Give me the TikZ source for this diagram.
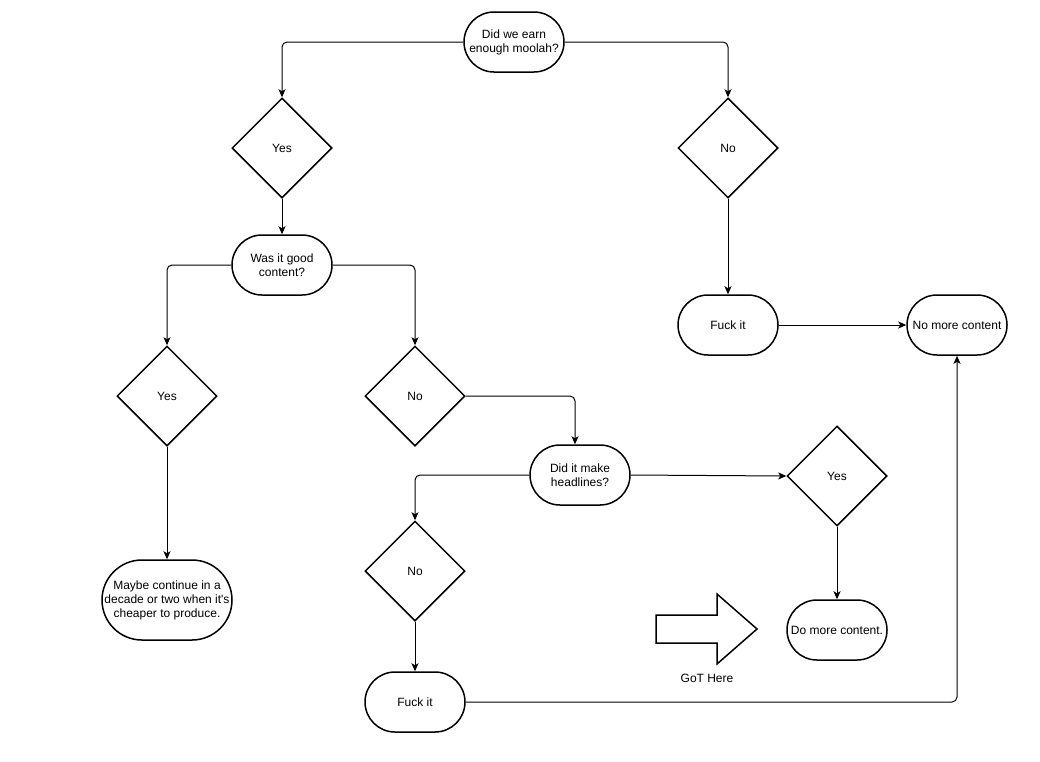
\documentclass[tikz,border=0pt]{standalone}
\usepackage{fontspec}
\setmainfont{Liberation Sans}
\usetikzlibrary{arrows.meta,shapes.geometric}

\begin{document}
\begin{tikzpicture}[x=1pt, y=-1pt,
	every node/.style={font=\fontsize{12}{14}\selectfont, align=center},
	term/.style={draw, line width=1.5pt, rounded corners=30pt, minimum width=100pt, minimum height=60pt, inner sep=2pt},
	choice/.style={draw, line width=1.5pt, diamond, aspect=1, minimum width=100pt, minimum height=100pt, inner sep=0pt},
	link/.style={line width=1pt, rounded corners=5pt, -{Stealth[length=8pt, width=7pt, inset=2pt]}}]
	\useasboundingbox (0,0) rectangle (1040,761);
	% top question and its two answers
	\node[term] (moolah) at (514,42) {Did we earn\\enough moolah?};
	\node[choice] (yesA) at (282,148) {Yes};
	\node[choice] (noA) at (728,148) {No};
	\node[term] (good) at (282,265) {Was it good\\content?};
	\node[term] (fuckA) at (728,325) {Fuck it};
	\node[term] (nomore) at (957,325) {No more content};
	% second level
	\node[choice] (yesB) at (167,396) {Yes};
	\node[choice] (noB) at (415,396) {No};
	\node[term, minimum width=130pt, minimum height=80pt, rounded corners=40pt] (maybe) at (167,600) {Maybe continue in a\\decade or two when it\textquotesingle s\\cheaper to produce.};
	\node[term] (headl) at (580,475) {Did it make\\headlines?};
	\node[choice] (yesC) at (837,476) {Yes};
	\node[choice] (noC) at (415,571) {No};
	\node[term] (more) at (837,630) {Do more content.};
	\node[term] (fuckB) at (415,702) {Fuck it};
	% the big arrow
	\draw[line width=1.5pt, line join=miter] (656,615) -- (717,615) -- (717,594) -- (757,629) -- (717,664) -- (717,643) -- (656,643) -- cycle;
	\node (got) at (707,678) {GoT Here};
	% connectors
	\draw[link] (moolah.west) -| (yesA.north);
	\draw[link] (moolah.east) -| (noA.north);
	\draw[link] (yesA.south) -- (good.north);
	\draw[link] (noA.south) -- (fuckA.north);
	\draw[link] (fuckA.east) -- (nomore.west);
	\draw[link] (good.west) -| (yesB.north);
	\draw[link] (good.east) -| (noB.north);
	\draw[link] (yesB.south) -- (maybe.north);
	\draw[link] (noB.east) -| ([xshift=-5pt]headl.north);
	\draw[link] (headl.west) -| (noC.north);
	\draw[link] (headl.east) -- (yesC.west);
	\draw[link] (yesC.south) -- (more.north);
	\draw[link] (noC.south) -- (fuckB.north);
	\draw[link] (fuckB.east) -| (nomore.south);
\end{tikzpicture}
\end{document}
